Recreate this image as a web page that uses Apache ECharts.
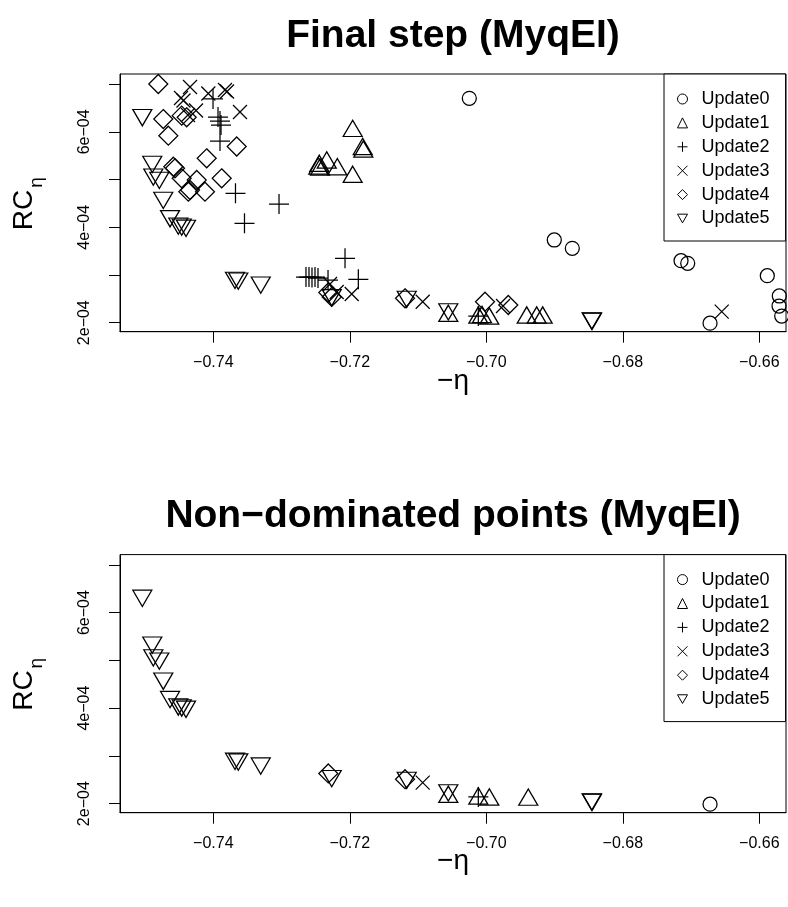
<!DOCTYPE html>
<html>
<head>
<meta charset="utf-8">
<script src="https://cdn.jsdelivr.net/npm/echarts@6/dist/echarts.min.js"></script>
<style>
html,body{margin:0;padding:0;background:#fff;}
#chart{width:788px;height:907px;}
</style>
</head>
<body>
<div id="chart"></div>
<script>
// ---- Data (x = -eta, y = RC_eta) ----
const seriesNames = ['Update0','Update1','Update2','Update3','Update4','Update5'];
const xTicks = [-0.74, -0.72, -0.70, -0.68, -0.66];
const yTicks = [2e-4, 3e-4, 4e-4, 5e-4, 6e-4, 7e-4];
const yLabels = [2e-4, 4e-4, 6e-4];

// Final step
const update0 = [[-0.70249,6.704e-4],[-0.69004,3.734e-4],[-0.68740,3.560e-4],[-0.67147,3.300e-4],[-0.67049,3.245e-4],[-0.65883,2.985e-4],[-0.65707,2.560e-4],[-0.65711,2.350e-4],[-0.65672,2.140e-4],[-0.66722,1.99e-4]];
const update1 = [[-0.71958,6.075e-4],[-0.71811,5.694e-4],[-0.71802,5.641e-4],[-0.72338,5.411e-4],[-0.72447,5.342e-4],[-0.72462,5.285e-4],[-0.72437,5.264e-4],[-0.72183,5.270e-4],[-0.71958,5.111e-4],[-0.72056,7.340e-4],[-0.70557,2.197e-4],[-0.70117,2.161e-4],[-0.70063,2.172e-4],[-0.69956,2.140e-4],[-0.69408,2.161e-4],[-0.69262,2.161e-4],[-0.69174,2.161e-4]];
const update2 = [[-0.74004,6.690e-4],[-0.73931,6.312e-4],[-0.73902,6.228e-4],[-0.73887,6.144e-4],[-0.73902,5.809e-4],[-0.73675,4.713e-4],[-0.73543,4.084e-4],[-0.73037,4.488e-4],[-0.72642,2.958e-4],[-0.72598,2.958e-4],[-0.72554,2.948e-4],[-0.72510,2.958e-4],[-0.72466,2.937e-4],[-0.72319,2.895e-4],[-0.72070,3.350e-4],[-0.71875,2.910e-4],[-0.70117,2.140e-4]];
const update3 = [[-0.74341,6.941e-4],[-0.74073,6.805e-4],[-0.73829,6.878e-4],[-0.73799,6.847e-4],[-0.74473,6.711e-4],[-0.74437,6.658e-4],[-0.74253,6.449e-4],[-0.73609,6.417e-4],[-0.74371,6.354e-4],[-0.72290,2.811e-4],[-0.72192,2.644e-4],[-0.71972,2.602e-4],[-0.70932,2.440e-4],[-0.69755,2.350e-4],[-0.66551,2.231e-4]];
const update4 = [[-0.74806,7.004e-4],[-0.74733,6.270e-4],[-0.74463,6.340e-4],[-0.74390,6.306e-4],[-0.74659,5.920e-4],[-0.73657,5.694e-4],[-0.74097,5.447e-4],[-0.74561,5.237e-4],[-0.74586,5.270e-4],[-0.74463,5.027e-4],[-0.74243,4.992e-4],[-0.74366,4.746e-4],[-0.74341,4.782e-4],[-0.74122,4.746e-4],[-0.73877,5.027e-4],[-0.72315,2.633e-4],[-0.72265,2.539e-4],[-0.71191,2.512e-4],[-0.70019,2.440e-4],[-0.69678,2.371e-4]];
const update5 = [[-0.75040,6.298e-4],[-0.74894,5.319e-4],[-0.74879,5.052e-4],[-0.74791,4.983e-4],[-0.74733,4.564e-4],[-0.74634,4.180e-4],[-0.74513,4.025e-4],[-0.74463,4.004e-4],[-0.74400,3.977e-4],[-0.73682,2.887e-4],[-0.73634,2.872e-4],[-0.73305,2.788e-4],[-0.72265,2.524e-4],[-0.71166,2.488e-4],[-0.70557,2.226e-4],[-0.68456,2.034e-4],[-0.68450,2.030e-4]];

// Non-dominated points
const nd0 = [[-0.66722,1.99e-4]];
const nd1 = [[-0.70557,2.197e-4],[-0.70117,2.161e-4],[-0.69956,2.140e-4],[-0.69385,2.138e-4]];
const nd2 = [[-0.70117,2.140e-4]];
const nd3 = [[-0.70932,2.440e-4]];
const nd4 = [[-0.72315,2.633e-4],[-0.71191,2.512e-4]];
const nd5 = update5;

const topSets = [update0, update1, update2, update3, update4, update5];
const botSets = [nd0, nd1, nd2, nd3, nd4, nd5];

// ---- Styling ----
const FONT = '"Liberation Sans", Arial, Helvetica, sans-serif';
const X_MIN = -0.75367, X_MAX = -0.65609;
const Y_MIN = 1.8113e-4, Y_MAX = 7.2138e-4;
const symbols = [
  'circle',
  'triangle',
  'path://M0,10L20,10M10,0L10,20',
  'path://M0,0L14,14M0,14L14,0',
  'diamond',
  'path://M0,0L20,0L10,17.32Z'
];
const symbolSizes = [14, [19,16.3], 20, 14, 19, [19,16.3]];
const lineW = 1.25;

const fmtX = v => '\u2212' + Math.abs(v).toFixed(2);
const fmtY = v => Math.round(v * 1e4) + 'e\u221204';

function axesFor(g) {
  const xa = {
    gridIndex: g, type: 'value', min: X_MIN, max: X_MAX,
    axisLine: {show: true, onZero: false, lineStyle: {color: '#000', width: 1}},
    axisTick: {show: true, customValues: xTicks, length: 11, lineStyle: {color: '#000', width: 1}},
    axisLabel: {customValues: xTicks, formatter: fmtX, margin: 23, fontSize: 16, color: '#000', fontFamily: FONT},
    splitLine: {show: false}
  };
  const ya = {
    gridIndex: g, type: 'value', min: Y_MIN, max: Y_MAX,
    axisLine: {show: true, onZero: false, lineStyle: {color: '#000', width: 1}},
    axisTick: {show: true, customValues: yTicks, length: 11, lineStyle: {color: '#000', width: 1}},
    axisLabel: {customValues: yLabels, formatter: fmtY, rotate: 90, margin: 27, fontSize: 16, color: '#000', fontFamily: FONT},
    splitLine: {show: false}
  };
  return [xa, ya];
}

const [x0, y0] = axesFor(0);
const [x1, y1] = axesFor(1);

const series = [];
[topSets, botSets].forEach((sets, g) => {
  sets.forEach((d, i) => {
    series.push({
      type: 'scatter', name: seriesNames[i], xAxisIndex: g, yAxisIndex: g,
      data: d, symbol: symbols[i], symbolSize: symbolSizes[i], clip: true,
      itemStyle: {color: 'transparent', borderColor: '#000', borderWidth: lineW, opacity: 1},
      emphasis: {disabled: true}, silent: true
    });
  });
});

function legendAt(top) {
  return {
    orient: 'vertical', left: 664, top: top, selectedMode: false,
    data: seriesNames,
    itemWidth: 10, itemHeight: 10, itemGap: 5.9,
    padding: [16, 16, 13.5, 13],
    borderColor: '#000', borderWidth: 1, borderRadius: 0, backgroundColor: '#fff',
    itemStyle: {color: 'transparent', borderColor: '#000', borderWidth: 1},
    textStyle: {fontSize: 18, color: '#000', fontFamily: FONT, lineHeight: 18, padding: [0, 0, 0, 9]}
  };
}

function txt(x, y, text, font, rot) {
  return {type: 'text', x: x, y: y, rotation: rot || 0, silent: true,
    style: {text: text, font: font, fill: '#000', align: 'center', verticalAlign: 'middle'}};
}

const offs = 480.6;
const graphics = [
  txt(453, 36, 'Final step (MyqEI)', 'bold 39px ' + FONT),
  txt(453, 36 + offs, 'Non\u2212dominated points (MyqEI)', 'bold 39px ' + FONT),
  txt(453, 381, '\u2212\u03b7', '28px ' + FONT),
  txt(453, 381 + offs, '\u2212\u03b7', '28px ' + FONT),
  txt(24, 210, 'RC', '28px ' + FONT, Math.PI / 2),
  txt(37, 182.5, '\u03b7', '19px ' + FONT, Math.PI / 2),
  txt(24, 210 + offs, 'RC', '28px ' + FONT, Math.PI / 2),
  txt(37, 182.5 + offs, '\u03b7', '19px ' + FONT, Math.PI / 2)
];

const chart = echarts.init(document.getElementById('chart'), null, {renderer: 'canvas'});
chart.setOption({
  animation: false,
  backgroundColor: '#fff',
  grid: [
    {left: 120, top: 74, width: 666, height: 257.7, show: true, borderColor: '#000', borderWidth: 1, backgroundColor: 'transparent', containLabel: false},
    {left: 120, top: 554.6, width: 666, height: 258.1, show: true, borderColor: '#000', borderWidth: 1, backgroundColor: 'transparent', containLabel: false}
  ],
  xAxis: [x0, x1],
  yAxis: [y0, y1],
  legend: [legendAt(74), legendAt(554.6)],
  series: series,
  graphic: graphics,
  tooltip: {show: false}
});
</script>
</body>
</html>
